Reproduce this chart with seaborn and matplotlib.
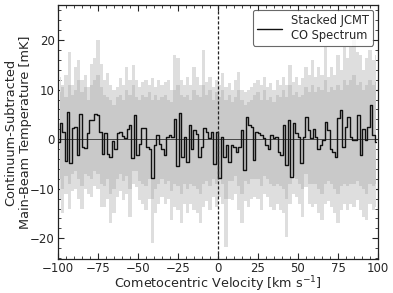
import numpy as np
import pandas as pd
import matplotlib
matplotlib.use("Agg")
import matplotlib.pyplot as plt
import seaborn as sns

# grey envelope of the individual spectra, 2 km/s channels
grey_vel = np.arange(-99, 100, 2)
grey_top = [12.5, 11, 13, 17.6, 11, 14.5, 16, 12, 13, 10.5,
            15.2, 16.3, 20, 15.2, 12, 13.3, 11, 10, 10.5, 12.3,
            11, 14.6, 12, 15, 12, 10.5, 11.5, 12, 11, 12.3,
            10.5, 12, 11, 11.6, 12, 10, 17, 16.3, 12, 11,
            12.6, 11, 14.6, 12.6, 11, 18, 11.5, 12.6, 10.5, 12,
            11, 13.3, 10.5, 11.3, 10, 12, 13.5, 10, 9.5, 10,
            10.5, 11.3, 12, 11, 12.6, 10.5, 11.3, 10, 12, 11,
            12.5, 11, 15, 11.5, 12.6, 11, 12.3, 14.6, 13, 16,
            12.5, 14.6, 13, 18.6, 12.5, 14.6, 13, 17, 14, 18.6,
            16.3, 18.6, 20, 17.6, 16.9, 14, 16.3, 18, 16, 17]
grey_bot = [-12, -15, -11, -14, -10.5, -10.1, -12, -14, -10, -11,
            -11.7, -9.5, -10.1, -13.7, -13.7, -12, -17, -15, -11.7, -10.5,
            -12.3, -11, -15.7, -9, -9.7, -12.3, -13, -14.3, -12, -21,
            -15, -13, -11.6, -13, -12, -16.4, -13.7, -14.3, -17, -13,
            -15, -13, -14.3, -15, -17, -13.7, -12.5, -14.3, -11.7, -13.7,
            -11.7, -13, -21.8, -12, -12.3, -11, -14.3, -17, -12.5, -13.7,
            -12, -11.7, -12, -14.3, -11, -11.7, -13.7, -14.3, -13, -14.3,
            -15, -19.7, -13, -11, -11.7, -13, -15.7, -9.6, -13, -13.7,
            -13, -15, -16.4, -13, -12.5, -13.7, -15, -17, -14.3, -13,
            -14.3, -13, -13.7, -12.3, -14.3, -15.7, -16.4, -13, -14.3, -13.7]
dense_top = [9.5, 10.5, 8.5, 11, 9, 10, 12, 9.5, 10.5, 8,
             11, 12, 13, 10.5, 9, 8.5, 8, 7, 8.5, 9,
             8, 10, 9, 11, 8.5, 8, 9, 8.5, 9.5, 8,
             9, 8, 8.5, 9, 8, 7.5, 10, 11, 9, 8.5,
             9, 8, 10, 9, 8.5, 11, 9, 10, 8, 9.5,
             8.5, 10, 8, 9, 7.5, 8.5, 10, 8, 7, 7.5,
             8, 9, 9.5, 8, 10, 8, 8.5, 7.5, 9, 8.5,
             10, 8.5, 11, 9, 9.5, 8.5, 9, 10.5, 9.5, 11,
             9.5, 10.5, 10, 12, 9.5, 10.5, 10, 11, 10, 12,
             11, 12, 13, 11, 11.5, 10, 11, 12, 11, 11.5]
dense_bot = [-8, -10, -7.5, -9, -7, -6.5, -8, -9.5, -7, -7.5,
             -8, -6.5, -7, -9, -9.5, -8, -11, -10, -8, -7,
             -8.5, -7.5, -10, -6.5, -6.5, -8.5, -9, -9.5, -8, -12,
             -10, -9, -8, -9, -8.5, -10.5, -9, -9.5, -11, -9,
             -10, -9, -9.5, -10, -11, -9, -8.5, -9.5, -8, -9,
             -8, -9, -12, -8.5, -8.5, -7.5, -9.5, -11, -8.5, -9,
             -8, -8, -8, -9.5, -7.5, -8, -9, -9.5, -9, -9.5,
             -10, -12, -9, -7.5, -8, -9, -10, -7, -9, -9,
             -9, -10, -11, -9, -8.5, -9, -10, -11, -9.5, -9,
             -9.5, -9, -9, -8.5, -9.5, -10, -11, -9, -9.5, -9]

# stacked spectrum, 1.55 km/s channels
stack_vel = np.arange(129) * 1.55 - 99.8
stack_tmb = [-0.5, 3.2, 1.5, -4.5, 5.5, -4.9, 2.2, 2.5, -3.2, 5.0,
             -1.5, -1.7, 1.2, 3.8, 3.8, 5.0, 4.8, 1.5, -2.9, 1.2,
             -2.9, -3.6, -0.3, -1.9, 1.2, 1.5, 0.6, 0.2, 2.0, 2.8,
             -3.9, 4.8, -3.2, -0.9, 2.2, 2.2, -1.5, -1.9, -7.9, -1.2,
             0.8, -0.9, -1.9, -3.2, 0.5, 0.8, 0.5, 4.0, -5.5, 5.2,
             -3.5, 0.5, -4.6, 2.8, -1.9, 1.8, 1.0, -3.6, -1.5, 2.2,
             1.5, 0.3, 1.5, -5.0, 1.5, -7.9, 0.5, -3.6, -1.2, -4.6,
             -1.2, -1.5, -2.5, -1.5, 1.8, -6.3, 4.5, 2.8, 2.4, -4.2,
             1.5, 1.2, 0.8, 0.2, -1.2, -1.9, 0.8, 0.2, 0.5, -2.6,
             -3.2, 2.8, -5.3, 3.8, -7.6, 3.2, 1.2, 0.5, -4.9, 0.5,
             4.5, 1.8, 0.2, 2.0, 0.5, -1.9, -1.2, -0.2, 3.5, 1.8,
             -1.9, -2.5, -3.6, 4.2, 5.9, -1.6, 2.5, 4.5, 0.5, -0.2,
             -0.2, 4.8, -3.2, 2.0, -0.2, 2.5, 6.9, 0.8, -0.5]

stack = pd.DataFrame({"vel": stack_vel, "tmb": stack_tmb})

sns.set_theme(style="ticks")
plt.rcParams["font.family"] = ["DejaVu Sans"]
plt.rcParams["xtick.direction"] = "in"
plt.rcParams["ytick.direction"] = "in"

fig = plt.figure(figsize=(3.93, 2.93), dpi=100)
ax = fig.add_axes([0.1476, 0.116, 0.8142, 0.867])

ax.fill_between(grey_vel, grey_bot, grey_top, step="mid", color="#dedede", lw=0)
ax.fill_between(grey_vel, dense_bot, dense_top, step="mid", color="#c9c9c9", lw=0)
ax.axhline(0, color="#333333", lw=0.6, zorder=2)
sns.lineplot(data=stack, x="vel", y="tmb", drawstyle="steps-mid", color="#111111",
             lw=1.0, ax=ax, label="Stacked JCMT\nCO Spectrum", zorder=3)
ax.axvline(0, color="#222222", ls=(0, (2.5, 1.5)), lw=0.9, zorder=4)

ax.set_xlim(-100, 100)
ax.set_ylim(-24.2, 27.1)
ax.set_xticks([-100, -75, -50, -25, 0, 25, 50, 75, 100])
ax.set_yticks([-20, -10, 0, 10, 20])
ax.xaxis.set_minor_locator(matplotlib.ticker.MultipleLocator(5))
ax.yaxis.set_minor_locator(matplotlib.ticker.MultipleLocator(2))
ax.tick_params(which="both", top=True, right=True, direction="in", labelsize=8.5)
ax.tick_params(which="major", length=4, width=0.8, pad=2.5)
ax.tick_params(which="minor", length=2, width=0.6)
for s in ax.spines.values():
    s.set_linewidth(0.9)
    s.set_color("#222222")

ax.set_xlabel("Cometocentric Velocity [km s$^{-1}$]", fontsize=9.2)
ax.set_ylabel("Continuum-Subtracted\nMain-Beam Temperature [mK]", fontsize=9.3,
              linespacing=1.15)
ax.xaxis.set_label_coords(0.5, -0.06)
ax.yaxis.set_label_coords(-0.082, 0.5)

leg = ax.legend(loc="upper right", fontsize=8.3, frameon=True, fancybox=True,
                handlelength=2.2, borderpad=0.35, labelspacing=0.2, borderaxespad=0.4)
leg.get_frame().set_edgecolor("#444444")
leg.get_frame().set_linewidth(0.8)

fig.savefig("out.png", dpi=100)
